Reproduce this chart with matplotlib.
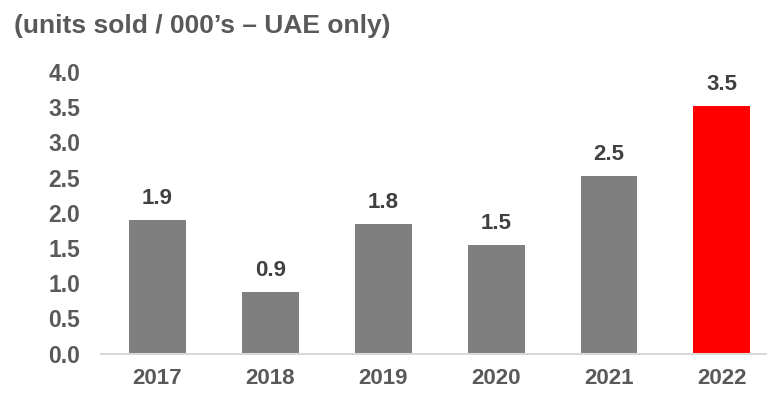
import matplotlib.pyplot as plt

# Units sold per year (thousands), UAE only
years = ['2017', '2018', '2019', '2020', '2021', '2022']
units = [1.90, 0.88, 1.84, 1.54, 2.52, 3.52]
bar_colors = ['#7f7f7f'] * 5 + ['#ff0000']
y_ticks = [0.0, 0.5, 1.0, 1.5, 2.0, 2.5, 3.0, 3.5, 4.0]

plt.rcParams['font.family'] = ['Liberation Sans', 'DejaVu Sans']
plt.rcParams['font.weight'] = 'bold'

fig = plt.figure(figsize=(7.67, 3.93), dpi=100)
ax = fig.add_axes([0.1317, 0.100, 0.8683, 0.7168])

x = range(len(years))
bars = ax.bar(x, units, width=0.504, color=bar_colors)

# value labels above each bar
for rect, val in zip(bars, units):
    ax.annotate(f'{val:.1f}', (rect.get_x() + rect.get_width() / 2, val),
                xytext=(0, 8), textcoords='offset points',
                ha='center', va='bottom', fontsize=16, fontweight='bold',
                color='#404040')

ax.set_xlim(-0.5, 5.40)
ax.set_ylim(0, 4.0)
ax.set_yticks(y_ticks)
ax.set_yticklabels([f'{t:.1f}' for t in y_ticks])
ax.set_xticks(list(x))
ax.set_xticklabels(years)
ax.tick_params(axis='both', length=0, labelcolor='#595959')
ax.tick_params(axis='y', pad=15, labelsize=16.5)
ax.tick_params(axis='x', pad=10, labelsize=16)

for side in ['top', 'right', 'left']:
    ax.spines[side].set_visible(False)
ax.spines['bottom'].set_color('#d9d9d9')
ax.spines['bottom'].set_linewidth(1.5)

fig.text(0.018, 0.934, '(units sold / 000\u2019s \u2013 UAE only)',
         fontsize=19, fontweight='bold', color='#595959',
         ha='left', va='center')

fig.savefig('out.png', dpi=100)
